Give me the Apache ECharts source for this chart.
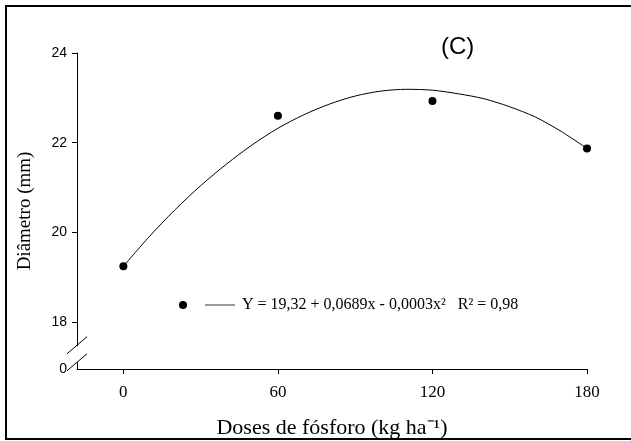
<!DOCTYPE html>
<html>
<head>
<meta charset="utf-8">
<script src="https://cdn.jsdelivr.net/npm/echarts@6/dist/echarts.min.js"></script>
<style>
  html, body { margin: 0; padding: 0; background: #fff; }
  #chart { width: 631px; height: 441px; }
</style>
</head>
<body>
<div id="chart"></div>
<script>
// observed points
var doses = [0, 60, 120, 180];
var diametro = [19.24, 22.6, 22.93, 21.87];

// fitted curve, every 10 kg
var fitX = [0, 10, 20, 30, 40, 50, 60, 70, 80, 90, 100, 110, 120, 130, 140, 150, 160, 170, 180];
var fitY = [19.24, 19.9, 20.5, 21.04, 21.52, 21.95, 22.32, 22.62, 22.86, 23.04, 23.15, 23.19,
            23.17, 23.09, 22.98, 22.8, 22.57, 22.25, 21.87];

var xTicks = [0, 60, 120, 180];
var yTicks = [18, 20, 22, 24];
var yZero = 16.95;          // where the broken axis shows "0"
var yBreak = [17.48, 17.1];  // gap in the y axis line
var xMin = -18;

var eqText = 'Y = 19,32 + 0,0689x - 0,0003x\u00B2   R\u00B2 = 0,98';

var serif = 'Liberation Serif, Times New Roman, serif';
var sans = 'Liberation Sans, Arial, sans-serif';

var chart = echarts.init(document.getElementById('chart'));

// white gap + two slashes on the y axis
function renderBreak(params, api) {
  var a = api.coord([api.value(0), api.value(1)]);
  var b = api.coord([api.value(0), api.value(2)]);
  return {
    type: 'group',
    children: [
      { type: 'rect', shape: { x: a[0] - 3, y: a[1] + 1, width: 6, height: b[1] - a[1] - 1 }, style: { fill: '#fff' } },
      { type: 'line', shape: { x1: a[0] - 10, y1: a[1] + 8.5, x2: a[0] + 10, y2: a[1] - 8.5 }, style: { stroke: '#000', lineWidth: 1 } },
      { type: 'line', shape: { x1: b[0] - 10, y1: b[1] + 8.5, x2: b[0] + 10, y2: b[1] - 8.5 }, style: { stroke: '#000', lineWidth: 1 } }
    ]
  };
}

var option = {
  animation: false,
  backgroundColor: '#fff',
  grid: { left: 77, right: 44, top: 53, bottom: 72, outerBoundsMode: 'none', containLabel: false },
  title: {
    text: '(C)',
    left: 436, top: 30,
    textStyle: { fontFamily: sans, fontSize: 24, fontWeight: 'normal', color: '#000' }
  },
  legend: [
    {
      data: [{ name: 'obs', icon: 'circle' }],
      left: 179, top: 301, padding: 0,
      itemWidth: 8, itemHeight: 8,
      formatter: function () { return ''; },
      selectedMode: false
    },
    {
      data: [{ name: eqText, icon: 'rect', itemStyle: { color: '#333' } }],
      left: 205, top: 297, padding: 0,
      itemWidth: 30, itemHeight: 1,
      textStyle: { fontFamily: serif, fontSize: 16, color: '#000', padding: [0, 0, 0, 2] },
      selectedMode: false
    }
  ],
  xAxis: {
    type: 'value',
    min: xMin, max: 180,
    name: 'Doses de fósforo (kg ha\u207B\u00B9)',
    nameLocation: 'middle', nameGap: 48,
    nameTextStyle: { fontFamily: serif, fontSize: 22, color: '#000' },
    axisLine: { show: true, onZero: false, lineStyle: { color: '#000', width: 1 } },
    axisTick: { show: true, length: 5, customValues: xTicks, lineStyle: { color: '#000' } },
    axisLabel: { customValues: xTicks, fontFamily: serif, fontSize: 17, color: '#000', margin: 15 },
    splitLine: { show: false }
  },
  yAxis: {
    type: 'value',
    min: yZero, max: 24,
    name: 'Diâmetro (mm)',
    nameLocation: 'middle', nameGap: 42,
    nameTextStyle: { fontFamily: serif, fontSize: 19, color: '#000' },
    axisLine: { show: true, onZero: false, lineStyle: { color: '#000', width: 1 } },
    axisTick: { show: true, length: 5, customValues: yTicks, lineStyle: { color: '#000' } },
    axisLabel: {
      customValues: [yZero].concat(yTicks),
      formatter: function (v) { return v < 17 ? '0' : String(v); },
      fontFamily: sans, fontSize: 14, color: '#000', margin: 10
    },
    splitLine: { show: false }
  },
  graphic: [
    {
      type: 'rect',
      shape: { x: 6, y: 6, width: 632, height: 433 },
      style: { fill: 'none', stroke: '#000', lineWidth: 2 }
    }
  ],
  series: [
    {
      name: eqText,
      type: 'line',
      data: fitX.map(function (x, i) { return [x, fitY[i]]; }),
      smooth: 0.3,
      symbol: 'none',
      lineStyle: { color: '#000', width: 1 },
      itemStyle: { color: '#333' },
      z: 2
    },
    {
      name: 'obs',
      type: 'scatter',
      data: doses.map(function (x, i) { return [x, diametro[i]]; }),
      symbol: 'circle',
      symbolSize: 8,
      itemStyle: { color: '#000', opacity: 1 },
      z: 3
    },
    {
      type: 'custom',
      renderItem: renderBreak,
      data: [[xMin, yBreak[0], yBreak[1]]],
      clip: false,
      silent: true,
      z: 10
    }
  ]
};

chart.setOption(option);
</script>
</body>
</html>
